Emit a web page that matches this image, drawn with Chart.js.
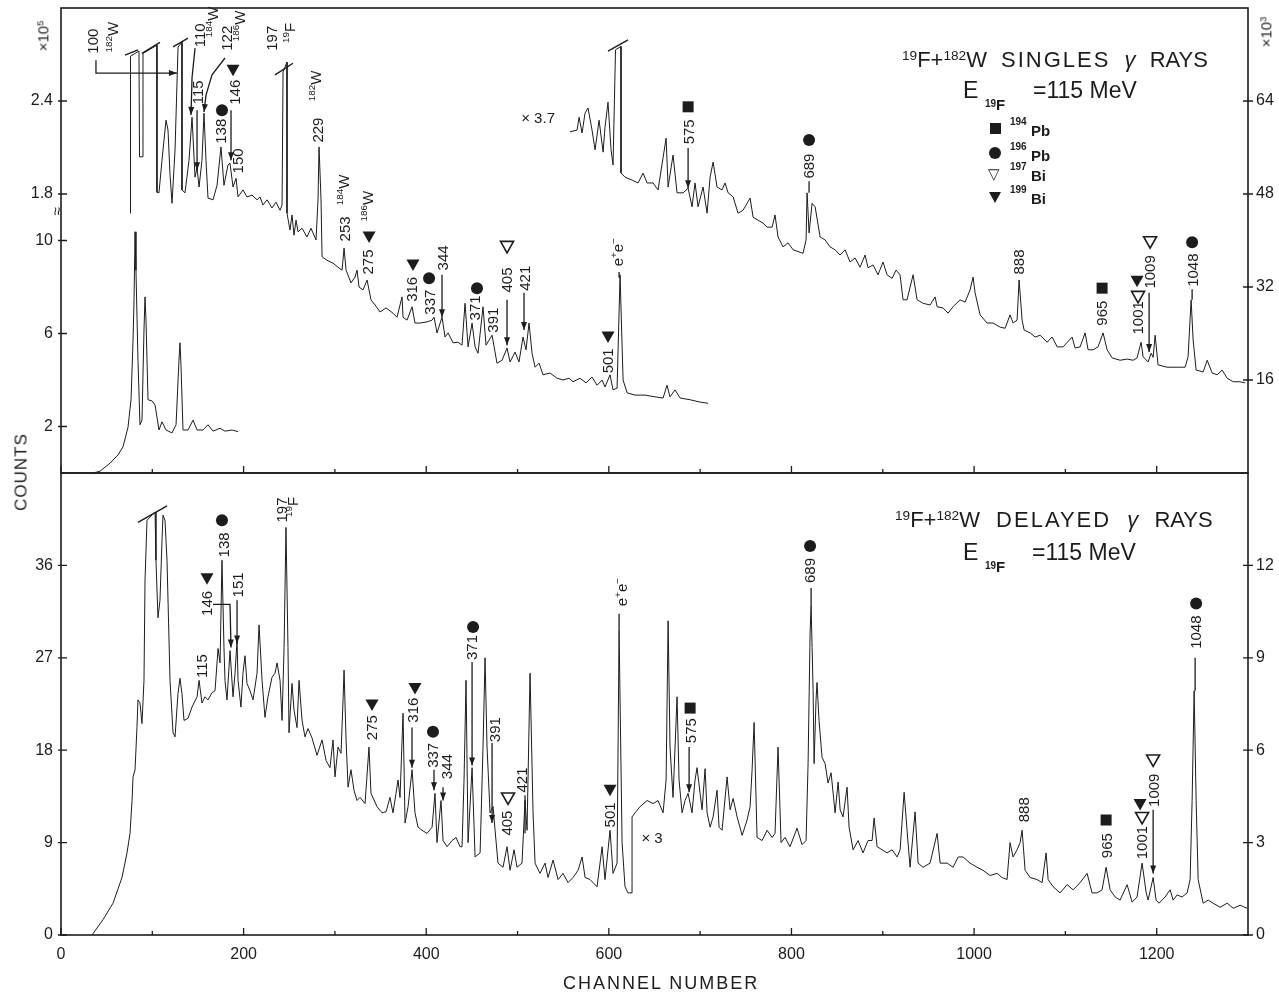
<!DOCTYPE html>
<html>
<head>
<meta charset="utf-8">
<script src="https://cdn.jsdelivr.net/npm/chart.js@4.4.1/dist/chart.umd.min.js"></script>
<style>
  body { margin: 0; background: #fff; width: 1279px; height: 993px; overflow: hidden; position: relative;
         font-family: 'Liberation Sans', Arial, sans-serif; color: #1c1c1c; }
  canvas { position: absolute; left: 0; }
  #singles { top: 0; }
  #delayed { top: 466px; }
  .t { position: absolute; white-space: nowrap; line-height: 1; }
  .sup { font-size: .62em; position: relative; top: -.55em; }
  .rot { transform: translate(-50%, -50%) rotate(-90deg); }
  .sq { position: absolute; width: 11px; height: 11px; background: #1c1c1c; }
  .dot { position: absolute; width: 12px; height: 12px; border-radius: 50%; background: #1c1c1c; }
  .tri { position: absolute; width: 0; height: 0; border-left: 6.5px solid transparent; border-right: 6.5px solid transparent; border-top: 11px solid #1c1c1c; }
</style>
</head>
<body>
<canvas id="singles" width="1279" height="480"></canvas>
<canvas id="delayed" width="1279" height="527"></canvas>

<!-- panel titles -->
<div class="t" style="left:902px;top:49px;font-size:22px;word-spacing:8px"><span class="sup">19</span>F+<span class="sup">182</span>W <span style="letter-spacing:2px">SINGLES</span> <i>γ</i> RAYS</div>
<div class="t" style="left:963px;top:79px;font-size:23px">E</div>
<div class="t" style="left:985px;top:99px;font-size:10px;font-weight:bold">19</div>
<div class="t" style="left:996px;top:97px;font-size:15px;font-weight:bold">F</div>
<div class="t" style="left:1033px;top:79px;font-size:23px">=115 MeV</div>

<div class="sq" style="left:990px;top:123px"></div>
<div class="t" style="left:1010px;top:117px;font-size:10px;font-weight:bold">194</div>
<div class="t" style="left:1031px;top:123px;font-size:15px;font-weight:bold">Pb</div>
<div class="dot" style="left:989px;top:147px"></div>
<div class="t" style="left:1010px;top:142px;font-size:10px;font-weight:bold">196</div>
<div class="t" style="left:1031px;top:148px;font-size:15px;font-weight:bold">Pb</div>
<div class="t" style="left:988px;top:166px;font-size:15px">▽</div>
<div class="t" style="left:1010px;top:162px;font-size:10px;font-weight:bold">197</div>
<div class="t" style="left:1031px;top:168px;font-size:15px;font-weight:bold">Bi</div>
<div class="tri" style="left:989px;top:192px"></div>
<div class="t" style="left:1010px;top:185px;font-size:10px;font-weight:bold">199</div>
<div class="t" style="left:1031px;top:191px;font-size:15px;font-weight:bold">Bi</div>

<div class="t" style="left:895px;top:509px;font-size:22px;word-spacing:10px"><span class="sup">19</span>F+<span class="sup">182</span>W <span style="letter-spacing:2px">DELAYED</span> <i>γ</i> RAYS</div>
<div class="t" style="left:963px;top:541px;font-size:23px">E</div>
<div class="t" style="left:985px;top:561px;font-size:10px;font-weight:bold">19</div>
<div class="t" style="left:996px;top:559px;font-size:15px;font-weight:bold">F</div>
<div class="t" style="left:1032px;top:541px;font-size:23px">=115 MeV</div>

<!-- axis titles and multipliers -->
<div class="t rot" style="left:43px;top:36px;font-size:15px">×10<span class="sup">5</span></div>
<div class="t rot" style="left:1266px;top:32px;font-size:15px">×10<span class="sup">3</span></div>
<div class="t rot" style="left:21px;top:472px;font-size:17px;letter-spacing:1px">COUNTS</div>
<div class="t" style="left:563px;top:974px;font-size:18px;letter-spacing:2px">CHANNEL NUMBER</div>

<script>
// channel axis
const channelTicks = [0, 200, 400, 600, 800, 1000, 1200];
const channelMinor = [100, 300, 500, 700, 900, 1100];

// singles panel: counts in units of the right axis (x10^3)
const singlesLeftTicks = [8, 24, 40, 48, 64];
const singlesLeftLabels = ['2', '6', '10', '1.8', '2.4'];
const singlesRightTicks = [16, 32, 48, 64];
const singlesRightLabels = ['16', '32', '48', '64'];

// delayed panel: counts in units of the left axis
const delayedTicks = [0, 9, 18, 27, 36];
const delayedLeftLabels = ['0', '9', '18', '27', '36'];
const delayedRightLabels = ['0', '3', '6', '9', '12'];

// [channel, counts]
const singlesLowGain = [
  [35, 0], [42.7, 0.3], [53.7, 1.7], [62.4, 3.1], [67.9, 4.5], [73.4, 7.9], [76.7, 12.6], [78.9, 22.9],
  [80, 29.8], [81.1, 41.5], [82.1, 34.9], [84.3, 19.4], [86.5, 8.3], [88.7, 9.1], [90.9, 24.6], [92, 30.3],
  [93.1, 26.3], [95.3, 12.6], [99.7, 12.4], [103, 11.7], [107.3, 7.4], [110.6, 8.8], [115, 7.4], [121.6, 6.9],
  [126, 8.3], [129.2, 19.4], [130.3, 22.4], [131.4, 18.6], [133.6, 7.4], [139.1, 7.4], [144.6, 9.1], [149, 7.4],
  [155.5, 7.4], [161, 8.3], [166.5, 7.2], [174.2, 7.7], [179.6, 7.2], [187.3, 7.4], [193.9, 7.1]
];

const singlesMain = [
  [75.6, 44.7], [76.1, 71.7], [85.4, 72.6], [86, 54.4], [89.3, 54.4], [89.8, 72.2], [105.1, 73.6], [105.1, 48.3],
  [107.3, 48.2], [110.6, 53.8], [115, 60.7], [117.2, 59.0], [119.4, 51.3], [121.6, 46.4], [124.9, 55.6],
  [128.2, 73.3], [132.5, 74.1], [132.5, 48.7], [135.8, 48.2], [140.2, 53.8], [143.5, 61.2], [146.8, 50.9],
  [149, 52.5], [151.2, 49.2], [154.4, 53.8], [156.6, 61.9], [158.8, 53.8], [161, 47.3], [166.5, 47.0],
  [170.9, 49.5], [175.2, 56.1], [178.5, 49.5], [182.9, 53.0], [185.1, 53.3], [188.4, 49.2], [191.7, 50.7],
  [193.9, 47.5], [199.3, 48.7], [203.7, 47.5], [209.2, 47.8], [214.7, 47.0], [218, 47.5], [221.2, 46.1],
  [225.6, 47.0], [231.1, 45.6], [235.5, 46.6], [239.9, 45.2], [242.1, 46.1], [243.2, 69.0], [247.5, 70.7],
  [247.5, 44.7], [250.8, 41.8], [253, 44.4], [255.2, 40.9], [257.4, 43.5], [259.6, 41.5], [264, 42.1],
  [269.4, 40.6], [273.8, 42.1], [279.3, 40.1], [281.5, 47.0], [282.6, 56.1], [284.8, 47.0], [285.9, 37.2],
  [291.3, 36.6], [297.9, 36.1], [303.4, 35.4], [307.8, 34.9], [310, 38.7], [312.2, 34.9], [317.6, 32.7],
  [322, 33.7], [324.2, 34.9], [326.4, 32.0], [330.8, 31.5], [335.2, 33.2], [339.5, 29.8], [345, 28.7],
  [349.4, 27.7], [356, 28.4], [363.6, 27.5], [368, 26.8], [373.5, 30.3], [374.6, 26.8], [379, 26.3],
  [384.5, 28.6], [387.7, 25.8], [393.2, 25.8], [400.9, 26.0], [406.4, 26.3], [408.6, 26.8], [411.8, 24.1],
  [417.3, 26.8], [420.6, 23.4], [423.9, 24.1], [429.4, 22.4], [434.8, 22.5], [439.2, 22.0], [442.5, 29.2],
  [445.8, 21.7], [450.2, 25.8], [453.5, 21.7], [456.7, 20.6], [462.2, 28.6], [465.5, 22.0], [472.1, 23.7],
  [477.5, 18.9], [483, 19.4], [488.5, 21.5], [491.8, 19.1], [497.3, 20.8], [501.6, 19.1], [506, 23.4],
  [509.3, 21.2], [512.6, 25.8], [515.9, 20.6], [519.2, 18.2], [523.6, 18.9], [527.9, 16.9], [535.6, 17.2],
  [543.3, 16.3], [549.8, 16.0], [556.4, 16.3], [560.8, 15.7], [568.5, 16.3], [575, 15.5], [581.6, 16.5],
  [587.1, 15.1], [592.6, 16.0], [595.8, 14.8], [601.3, 16.9], [604.6, 14.3], [609, 14.6], [612.3, 34.1],
  [615.6, 16.0], [620, 13.8], [628.7, 13.4], [639.7, 13.4], [650.6, 13.1], [659.4, 12.9], [663.7, 15.1],
  [667, 13.1], [672.5, 14.3], [678, 12.9], [689, 12.6], [699.9, 12.2], [708.7, 12.0]
];

// x3.7 expanded part of the singles spectrum
const singlesExpanded = [
  [557.5, 58.7], [565.2, 59.0], [567.4, 61.2], [570.7, 58.5], [573.9, 61.9], [577.2, 62.8], [581.6, 59.0],
  [584.9, 55.6], [589.3, 60.7], [593.7, 55.2], [595.8, 59.5], [599.1, 63.8], [602.4, 55.6], [604.6, 53.0],
  [607.3, 72.8], [613.3, 73.4], [613.3, 51.6], [617.7, 50.9], [625.3, 50.4], [632, 49.9], [637.5, 51.6],
  [641.9, 49.9], [648.4, 49.9], [653.9, 48.7], [662.7, 57.6], [664.9, 49.2], [670.3, 54.7], [674.7, 48.2],
  [681.3, 48.2], [686.8, 49.0], [691.1, 45.8], [694.4, 49.9], [697.7, 45.8], [703.2, 49.2], [707.6, 44.7],
  [710.9, 50.9], [714.2, 53.5], [718.5, 49.2], [724, 48.7], [727.3, 49.9], [730.6, 48.2], [736.1, 47.5],
  [741.5, 44.7], [747, 45.2], [751.4, 46.4], [754.7, 47.3], [758, 44.0], [763.4, 43.5], [768.9, 43.0],
  [773.3, 42.3], [778.8, 42.3], [782, 44.4], [785.3, 40.6], [790.8, 38.9], [796.3, 39.6], [801.8, 38.4],
  [812.7, 37.8], [816, 40.1], [817.1, 48.2], [819.3, 41.3], [822.6, 46.4], [825.9, 45.8], [831.4, 40.6],
  [836.8, 40.1], [842.3, 38.9], [847.8, 38.4], [853.2, 37.5], [858.7, 38.4], [864.2, 36.3], [869.7, 37.0],
  [875.1, 35.4], [880.6, 37.5], [883.9, 35.3], [889.4, 35.8], [894.8, 34.1], [900.3, 36.3], [904.7, 34.1],
  [910.2, 33.5], [914.6, 34.9], [918.9, 34.1], [922.2, 29.8], [926.6, 29.8], [933.2, 34.1], [937.6, 29.8],
  [944.2, 29.2], [951.8, 28.9], [957.3, 30.3], [959.5, 28.6], [966.1, 28.4], [971.5, 27.5], [977, 28.6],
  [984.7, 29.8], [990.2, 29.4], [995.6, 31.5], [998.9, 33.7], [1001.1, 31.0], [1006.6, 27.2], [1014.2, 25.8],
  [1020.8, 25.8], [1028.5, 25.1], [1034, 24.9], [1039.4, 27.2], [1042.7, 25.8], [1047.1, 26.3], [1049.3, 33.2],
  [1052.6, 26.3], [1054.8, 24.6], [1061.4, 24.1], [1066.9, 23.4], [1072.4, 23.7], [1080, 22.5], [1085.5, 23.4],
  [1091, 21.7], [1097.5, 21.7], [1107.4, 23.4], [1110.6, 21.5], [1116.1, 21.7], [1121.6, 24.1], [1124.9, 21.2],
  [1130.3, 21.2], [1135.8, 21.7], [1141.3, 24.1], [1145.7, 21.2], [1151.2, 19.8], [1159.9, 19.4], [1167.6, 19.6],
  [1174.2, 19.4], [1178.5, 19.8], [1182.9, 22.5], [1185.1, 20.0], [1190.6, 19.1], [1193.9, 20.6], [1196.1, 19.9],
  [1198.3, 23.7], [1201.5, 18.6], [1211.4, 18.2], [1222.4, 18.2], [1231.1, 18.2], [1234.4, 20.0], [1237.7, 29.8],
  [1239.9, 22.9], [1243.2, 17.7], [1250.9, 17.4], [1255.3, 19.4], [1260.8, 17.2], [1266.2, 16.9], [1271.7, 17.7],
  [1277.2, 16.3], [1283.8, 15.7], [1291.4, 15.7], [1296.9, 15.5]
];

// delayed spectrum; the step at channel 625 is the x3 gain change
const delayedMain = [
  [34, 0], [46, 1.5], [57, 3.1], [66.8, 5.6], [72.3, 8.0], [75.6, 9.9], [77.8, 13.1], [78.9, 15.4], [81.1, 16.1],
  [83.2, 20.2], [84.3, 22.9], [86.5, 22.6], [88.7, 20.6], [90.9, 24.8], [92, 34.5], [94.2, 40.4], [103, 41.2],
  [104, 36.5], [106.2, 30.9], [108.4, 32.6], [110.6, 38.4], [111.7, 40.9], [113.9, 40.4], [116.1, 36.5],
  [119.4, 24.8], [122.7, 19.7], [124.9, 19.3], [128.1, 23.5], [130.3, 25.0], [132.5, 23.5], [134.7, 20.9],
  [139.1, 21.1], [143.5, 22.2], [149, 23.2], [151.2, 24.8], [154.4, 22.6], [157.7, 23.2], [161, 22.9],
  [165.4, 23.6], [168.7, 23.8], [172, 27.9], [174.2, 26.5], [176.3, 36.5], [178.5, 28.0], [179.6, 24.8],
  [181.8, 22.9], [185.1, 27.7], [188.4, 23.2], [190.6, 25.5], [192.8, 28.7], [193.9, 24.8], [197.1, 22.2],
  [199.3, 25.5], [201.5, 27.2], [203.7, 24.5], [207, 23.8], [210.3, 22.9], [214.7, 25.5], [216.9, 30.2],
  [220.2, 24.8], [223.4, 21.2], [226.7, 23.2], [231.1, 25.1], [234.4, 25.5], [236.6, 26.5], [239.9, 24.8],
  [242.1, 20.9], [244.3, 28.0], [246.4, 39.7], [248.6, 28.0], [249.7, 19.7], [253, 24.5], [255.2, 21.9],
  [258.5, 20.2], [260.7, 24.8], [264, 20.9], [267.2, 19.3], [270.5, 20.1], [274.9, 19.2], [280.4, 17.5],
  [285.9, 19.0], [290.3, 17.0], [294.6, 16.3], [297.9, 19.0], [300.1, 15.4], [303.4, 18.3], [306.7, 17.7],
  [308.9, 22.9], [310, 25.8], [312.2, 19.0], [314.4, 14.4], [317.6, 16.1], [320.9, 14.1], [324.2, 13.1],
  [327.5, 13.4], [333, 12.8], [337.3, 18.3], [339.5, 13.8], [346.1, 12.5], [351.6, 11.9], [356, 12.0],
  [360.3, 13.4], [363.6, 11.9], [366.9, 13.8], [369.1, 15.1], [371.3, 13.4], [374.6, 21.6], [376.8, 10.9],
  [380.1, 12.5], [384.5, 16.1], [387.7, 11.9], [391, 10.5], [395.4, 10.2], [400.9, 9.9], [406.4, 10.5],
  [409.6, 13.8], [411.8, 9.0], [416.2, 13.1], [418.4, 9.2], [422.8, 8.6], [428.3, 9.2], [432.7, 9.5],
  [437, 8.6], [439.2, 8.6], [441.4, 15.1], [443.6, 24.8], [445.8, 9.0], [450.2, 16.3], [453.5, 7.6],
  [459, 8.0], [462.2, 18.3], [464.4, 27.0], [466.6, 18.3], [469.9, 11.9], [473.2, 12.5], [475.4, 10.2],
  [478.6, 7.0], [484.1, 6.6], [488.5, 8.6], [491.8, 6.3], [496.2, 8.3], [499.4, 6.6], [504.9, 7.0],
  [508.2, 13.1], [510.4, 10.2], [513.7, 25.5], [517, 11.9], [519.2, 7.0], [524.6, 6.0], [530.1, 7.0],
  [533.4, 5.6], [538.9, 7.3], [544.4, 5.4], [549.8, 6.0], [555.3, 5.1], [560.8, 5.6], [566.3, 6.3],
  [570.7, 7.6], [574, 5.6], [579.4, 5.4], [587.1, 4.7], [592.6, 8.6], [595.8, 5.4], [601.3, 10.2],
  [604.6, 6.0], [609, 7.0], [611.2, 29.7], [614.5, 9.0], [617.7, 4.7], [621, 4.1], [625.4, 4.1],
  [625.4, 11.5], [628.7, 11.9], [634.2, 12.5], [641.9, 13.1], [648.4, 12.8], [653.9, 13.1], [659.4, 11.9],
  [662.7, 15.1], [664.9, 30.6], [667, 18.3], [670.3, 13.4], [674.7, 23.2], [676.9, 15.1], [680.2, 11.9],
  [683.5, 13.1], [686.8, 13.8], [691.1, 11.9], [694.4, 15.1], [696.6, 16.3], [699.9, 13.8], [702.1, 12.2],
  [705.4, 16.2], [707.6, 11.9], [710.9, 10.5], [714.2, 11.5], [718.5, 14.1], [720.7, 10.5], [724, 10.2],
  [729.5, 15.4], [732.8, 12.2], [736.1, 13.3], [740.5, 11.5], [746, 9.7], [751.4, 11.2], [754.7, 12.5],
  [756.9, 16.1], [759.1, 20.7], [762.3, 9.5], [767.8, 9.2], [773.3, 10.2], [778.8, 9.5], [782, 9.9],
  [785.3, 18.3], [788.6, 9.0], [793, 9.5], [798.4, 8.6], [806.1, 10.4], [811.6, 8.8], [816, 9.2],
  [818.2, 16.7], [820.4, 29.4], [821.5, 32.1], [822.6, 28.0], [823.7, 23.8], [824.8, 16.7], [826.9, 22.9],
  [828, 24.6], [830.2, 20.9], [833.5, 17.3], [836.8, 16.7], [840.1, 14.8], [843.4, 15.8], [847.8, 11.9],
  [851.1, 14.9], [853.3, 12.2], [856.5, 11.5], [860.9, 14.4], [863.1, 10.5], [867.5, 8.3], [873, 9.2],
  [878.4, 8.0], [883.9, 9.2], [888.3, 9.2], [890.5, 11.4], [893.8, 8.6], [899.3, 8.3], [904.7, 8.0],
  [910.2, 8.3], [915.7, 7.6], [919, 8.3], [923.4, 13.9], [926.6, 10.2], [929.9, 6.6], [935.4, 12.0],
  [938.7, 7.0], [944.1, 6.6], [951.8, 7.0], [959.5, 9.9], [962.8, 7.0], [970.5, 7.0], [977, 6.6],
  [982.5, 7.6], [988, 7.6], [995.6, 7.0], [1003.2, 6.6], [1009.8, 6.3], [1017.5, 5.8], [1025.2, 6.0],
  [1030.7, 5.6], [1036.1, 5.4], [1039.4, 9.0], [1042.7, 7.6], [1047.1, 8.3], [1050.4, 9.0], [1052.6, 10.2],
  [1055.9, 6.3], [1061.4, 5.6], [1069, 5.4], [1074.5, 5.1], [1078.9, 8.0], [1081.1, 5.4], [1086.6, 4.7],
  [1094.2, 4.1], [1101.9, 4.9], [1108.5, 4.4], [1116.1, 5.1], [1123.8, 6.0], [1129.2, 4.1], [1134.7, 4.1],
  [1140.2, 4.4], [1144.6, 6.6], [1149, 4.4], [1154.5, 3.7], [1159.9, 3.4], [1167.6, 4.9], [1173.1, 3.2],
  [1178.5, 3.7], [1184, 7.0], [1188.5, 4.1], [1190.6, 3.4], [1196.1, 5.6], [1199.3, 3.4], [1202.6, 3.1],
  [1209.2, 3.7], [1214.7, 4.4], [1218, 3.4], [1222.4, 3.9], [1227.8, 3.7], [1233.3, 4.1], [1236.6, 5.4],
  [1238.8, 13.1], [1241, 23.8], [1243.2, 13.1], [1245.4, 5.4], [1250.9, 3.1], [1256.4, 3.4], [1261.8, 3.1],
  [1269.5, 2.7], [1277.2, 3.1], [1283.8, 2.6], [1291.4, 2.9], [1299.1, 2.6]
];

// peak labels [text, channel, counts, angle]; ^{..} is a superscript
const singlesLabels = [
  ['100', 35, 74.3], ['^{182}W', 57, 75.0], ['110', 152.2, 75.3], ['^{184}W', 166.5, 77.6], ['115', 150, 65.5],
  ['122', 181.8, 74.8], ['^{186}W', 196.1, 76.9], ['146', 190.6, 65.5], ['138', 175.2, 58.8], ['150', 193.9, 53.7],
  ['197', 231.1, 74.8], ['^{19}F', 250.8, 75.7], ['229', 281.5, 59.0], ['^{182}W', 279.3, 66.6], ['253', 311, 42.0],
  ['^{184}W', 310, 48.7], ['^{186}W', 336.3, 45.9], ['275', 336.3, 36.3], ['316', 384.4, 31.6], ['337', 404.2, 29.4],
  ['344', 418.4, 37.0], ['371', 453.5, 28.4], ['391', 473.2, 26.3], ['405', 488.5, 33.2], ['421', 508.2, 33.5],
  ['501', 599.1, 19.3], ['e^{+}e^{−}', 610.1, 38.0], ['575', 686.8, 58.7], ['689', 819.3, 52.8], ['888', 1049.3, 36.3],
  ['965', 1140.2, 27.5], ['1001', 1179.6, 26.7], ['1009', 1191.7, 34.6], ['1048', 1238.8, 34.9],
  ['× 3.7', 522.5, 61.2, 0]
];
const singlesMarks = [
  ['tri', 188.4, 69.3], ['dot', 176.3, 62.4], ['tri', 337.4, 40.6], ['tri', 385.5, 35.8], ['dot', 403.1, 33.5],
  ['dot', 455.6, 31.8], ['otri', 488.5, 38.9], ['tri', 599.1, 23.4], ['sq', 686.8, 63.0], ['dot', 819.3, 57.3],
  ['sq', 1140.2, 31.8], ['otri', 1179.6, 30.3], ['tri', 1178.5, 33.0], ['otri', 1192.8, 39.7], ['dot', 1238.8, 39.7]
];
const singlesLeaders = [
  [[[38.3, 71.0], [38.3, 68.8], [127, 68.8]], true],
  [[[146.8, 73.1], [143.5, 68], [142.4, 61.6]], true],
  [[[149, 62.4], [149, 52.1]], true],
  [[[179.6, 71.4], [165.4, 68.5], [158.8, 65.0], [156.6, 62.1]], true],
  [[[186.2, 62.4], [186.2, 53.8]], true],
  [[[417.3, 34.1], [417.3, 26.8]], true],
  [[[488.5, 29.8], [488.5, 22.0]], true],
  [[[507.1, 31.0], [507.1, 24.6]], true],
  [[[611.2, 34.6], [611.2, 33.6]], false],
  [[[686.8, 55.9], [686.8, 49.0]], true],
  [[[819.3, 50.2], [819.3, 48.2]], false],
  [[[1191.7, 31.0], [1191.7, 20.8]], true],
  [[[1238.8, 31.6], [1238.8, 29.8]], false]
];
const singlesCuts = [
  [70.1, 71.9, 84.3, 72.8], [88.7, 72.2, 108.4, 74.1], [122.7, 73.3, 139.1, 74.8],
  [234.4, 68.5, 254.1, 70.5], [599.1, 72.6, 621, 74.5]
];

const delayedLabels = [
  ['138', 178.5, 38.0], ['146', 159.9, 32.3], ['151', 193.9, 34.1], ['115', 154.4, 26.2], ['197', 242.1, 41.4],
  ['^{19}F', 254.1, 41.7], ['275', 340.6, 20.2], ['316', 385.5, 21.9], ['337', 407.4, 17.5], ['344', 422.8, 16.4],
  ['371', 450.2, 28.0], ['391', 475.4, 20.0], ['405', 488.5, 10.9], ['421', 504.9, 15.1], ['501', 601.3, 11.7],
  ['e^{+}e^{−}', 614.5, 33.4], ['575', 689, 19.9], ['689', 820.4, 35.5], ['888', 1053.7, 12.2], ['965', 1144.6, 8.7],
  ['1001', 1184, 9.0], ['1009', 1196.1, 14.1], ['1048', 1242.1, 29.5], ['× 3', 647.3, 9.5, 0]
];
const delayedMarks = [
  ['dot', 176.3, 40.4], ['tri', 159.9, 34.7], ['tri', 340.6, 22.4], ['tri', 387.7, 24.0], ['dot', 407.4, 19.8],
  ['dot', 451.3, 30.0], ['otri', 489.6, 13.3], ['tri', 601.3, 14.1], ['sq', 689, 22.1], ['dot', 820.4, 37.9],
  ['sq', 1144.6, 11.2], ['otri', 1184, 11.4], ['tri', 1181.8, 12.7], ['otri', 1196.1, 17.0], ['dot', 1243.2, 32.3]
];
const delayedLeaders = [
  [[[166.5, 32.2], [185.1, 32.2], [186.2, 28.0]], true],
  [[[192.8, 32.6], [192.8, 28.4]], true],
  [[[384.4, 20.2], [384.4, 16.3]], true],
  [[[408.5, 16.1], [408.5, 14.1]], true],
  [[[418.4, 14.4], [418.4, 13.1]], true],
  [[[450.2, 26.6], [450.2, 16.5]], true],
  [[[472.1, 18.7], [472.1, 10.9]], true],
  [[[508.2, 13.6], [508.2, 9.9]], false],
  [[[611.2, 31.3], [611.2, 29.7]], false],
  [[[687.9, 18.3], [687.9, 13.9]], true],
  [[[821.5, 33.8], [821.5, 32.1]], false],
  [[[1196.1, 12.2], [1196.1, 6.0]], true],
  [[[1242.1, 27.0], [1242.1, 23.8]], false]
];
const delayedCuts = [[84.3, 40.2, 116.1, 41.8]];

const ink = '#1c1c1c';
const family = "'Liberation Sans', Arial, sans-serif";
Chart.defaults.font.family = family;
Chart.defaults.color = ink;

function trace(pairs) {
  return {
    data: pairs.map(([x, y]) => ({ x: x, y: y })),
    yAxisID: 'yL',
    borderColor: ink,
    borderWidth: 1,
    pointRadius: 0,
    tension: 0,
    fill: false
  };
}

// fixed axis sizes so the plot box lands where the reference has it
function noPadding(s) {
  s.paddingTop = 0; s.paddingBottom = 0; s.paddingLeft = 0; s.paddingRight = 0;
}

function channelAxis(showLabels, height) {
  return {
    type: 'linear', position: 'bottom', min: 0, max: 1300,
    grid: { display: false, drawTicks: false, tickLength: 0 }, border: { display: false },
    afterFit: s => { s.height = height; noPadding(s); },
    afterBuildTicks: s => { s.ticks = channelTicks.map(v => ({ value: v })); },
    ticks: { display: showLabels, padding: 10, font: { size: 16 }, maxRotation: 0, autoSkip: false, callback: v => String(v) }
  };
}

function countAxis(position, max, ticks, labels, width, padding) {
  return {
    type: 'linear', position: position, min: 0, max: max,
    grid: { display: false, drawTicks: false, tickLength: 0 }, border: { display: false },
    afterFit: s => { s.width = width; noPadding(s); },
    afterBuildTicks: s => { s.ticks = ticks.map(v => ({ value: v })); },
    ticks: { padding: padding, font: { size: 16 }, callback: v => labels[ticks.indexOf(v)] }
  };
}

// box, inward channel ticks and count ticks
const framePlugin = {
  id: 'frame',
  afterDraw(chart, args, o) {
    const { ctx, chartArea: a, scales } = chart;
    ctx.save();
    ctx.strokeStyle = ink;
    ctx.lineWidth = 1.6;
    ctx.strokeRect(a.left, a.top, a.right - a.left, a.bottom - a.top);
    ctx.lineWidth = 1.3;
    ctx.beginPath();
    channelTicks.forEach(c => {
      const x = scales.x.getPixelForValue(c);
      ctx.moveTo(x, a.bottom); ctx.lineTo(x, a.bottom - 7);
    });
    channelMinor.forEach(c => {
      const x = scales.x.getPixelForValue(c);
      ctx.moveTo(x, a.bottom); ctx.lineTo(x, a.bottom - 4);
    });
    scales.yL.ticks.forEach(t => {
      const y = scales.yL.getPixelForValue(t.value);
      ctx.moveTo(a.left - 3, y); ctx.lineTo(a.left + 6, y);
    });
    scales.yR.ticks.forEach(t => {
      const y = scales.yR.getPixelForValue(t.value);
      ctx.moveTo(a.right - 5, y); ctx.lineTo(a.right + 5, y);
    });
    ctx.stroke();
    if (o.breakAt) {
      ctx.translate(a.left - 3, scales.yL.getPixelForValue(o.breakAt));
      ctx.rotate(-Math.PI / 2);
      ctx.fillStyle = ink;
      ctx.font = '15px ' + family;
      ctx.textAlign = 'center';
      ctx.textBaseline = 'middle';
      ctx.fillText('≈', 0, 0);
    }
    ctx.restore();
  }
};

function drawRich(ctx, text, x, y, angle, size) {
  const parts = [];
  text.replace(/\^\{([^}]*)\}|([^^]+)/g, (m, sup, plain) => {
    if (sup !== undefined) parts.push({ t: sup, s: size * 0.66, dy: -size * 0.42 });
    else parts.push({ t: plain, s: size, dy: 0 });
    return m;
  });
  let total = 0;
  parts.forEach(p => { ctx.font = p.s + 'px ' + family; p.w = ctx.measureText(p.t).width; total += p.w; });
  ctx.save();
  ctx.translate(x, y);
  ctx.rotate(angle);
  ctx.textBaseline = 'alphabetic';
  ctx.textAlign = 'left';
  let cx = -total / 2;
  parts.forEach(p => {
    ctx.font = p.s + 'px ' + family;
    ctx.fillText(p.t, cx, size * 0.36 + p.dy);
    cx += p.w;
  });
  ctx.restore();
}

function drawMarker(ctx, kind, x, y) {
  ctx.beginPath();
  if (kind === 'sq') {
    ctx.rect(x - 5.5, y - 5.5, 11, 11);
    ctx.fill();
  } else if (kind === 'dot') {
    ctx.arc(x, y, 6, 0, Math.PI * 2);
    ctx.fill();
  } else {
    ctx.moveTo(x - 6.5, y - 5.5); ctx.lineTo(x + 6.5, y - 5.5); ctx.lineTo(x, y + 6); ctx.closePath();
    if (kind === 'tri') ctx.fill();
    else { ctx.lineWidth = 1.6; ctx.stroke(); }
  }
}

// labels, markers, leader lines and off-scale cut marks
const notesPlugin = {
  id: 'peakNotes',
  afterDatasetsDraw(chart, args, o) {
    const ctx = chart.ctx;
    const xs = chart.scales.x, ys = chart.scales.yL;
    const px = c => xs.getPixelForValue(c);
    const py = v => ys.getPixelForValue(v);
    ctx.save();
    ctx.strokeStyle = ink;
    ctx.fillStyle = ink;
    ctx.lineWidth = 1.4;
    o.cuts.forEach(([c1, v1, c2, v2]) => {
      ctx.beginPath(); ctx.moveTo(px(c1), py(v1)); ctx.lineTo(px(c2), py(v2)); ctx.stroke();
    });
    ctx.lineWidth = 1.3;
    o.leaders.forEach(([pts, arrow]) => {
      const p = pts.map(([c, v]) => [px(c), py(v)]);
      ctx.beginPath();
      ctx.moveTo(p[0][0], p[0][1]);
      p.slice(1).forEach(q => ctx.lineTo(q[0], q[1]));
      ctx.stroke();
      if (arrow) {
        const [x1, y1] = p[p.length - 2], [x2, y2] = p[p.length - 1];
        const ang = Math.atan2(y2 - y1, x2 - x1);
        const c = Math.cos(ang), s = Math.sin(ang);
        ctx.beginPath();
        ctx.moveTo(x2, y2);
        ctx.lineTo(x2 - 8 * c + 3 * s, y2 - 8 * s - 3 * c);
        ctx.lineTo(x2 - 8 * c - 3 * s, y2 - 8 * s + 3 * c);
        ctx.closePath();
        ctx.fill();
      }
    });
    o.marks.forEach(([kind, c, v]) => { ctx.lineWidth = 1.3; drawMarker(ctx, kind, px(c), py(v)); });
    o.labels.forEach(([text, c, v, angle]) => {
      drawRich(ctx, text, px(c), py(v), angle === undefined ? -Math.PI / 2 : angle, 15);
    });
    ctx.restore();
  }
};

new Chart(document.getElementById('singles'), {
  type: 'line',
  data: { datasets: [trace(singlesLowGain), trace(singlesMain), trace(singlesExpanded)] },
  options: {
    responsive: false, devicePixelRatio: 1, animation: false, events: [],
    layout: { padding: { top: 8, left: 0, right: 0, bottom: 0 } },
    scales: {
      x: channelAxis(false, 7),
      yL: countAxis('left', 80, singlesLeftTicks, singlesLeftLabels, 61, 8),
      yR: countAxis('right', 80, singlesRightTicks, singlesRightLabels, 31, 8)
    },
    plugins: {
      legend: { display: false },
      tooltip: { enabled: false },
      frame: { breakAt: 45 },
      peakNotes: { labels: singlesLabels, marks: singlesMarks, leaders: singlesLeaders, cuts: singlesCuts }
    }
  },
  plugins: [framePlugin, notesPlugin]
});

new Chart(document.getElementById('delayed'), {
  type: 'line',
  data: { datasets: [trace(delayedMain)] },
  options: {
    responsive: false, devicePixelRatio: 1, animation: false, events: [],
    layout: { padding: { top: 7, left: 0, right: 0, bottom: 0 } },
    scales: {
      x: channelAxis(true, 58),
      yL: countAxis('left', 45, delayedTicks, delayedLeftLabels, 61, 8),
      yR: countAxis('right', 45, delayedTicks, delayedRightLabels, 31, 8)
    },
    plugins: {
      legend: { display: false },
      tooltip: { enabled: false },
      frame: {},
      peakNotes: { labels: delayedLabels, marks: delayedMarks, leaders: delayedLeaders, cuts: delayedCuts }
    }
  },
  plugins: [framePlugin, notesPlugin]
});
</script>
</body>
</html>
